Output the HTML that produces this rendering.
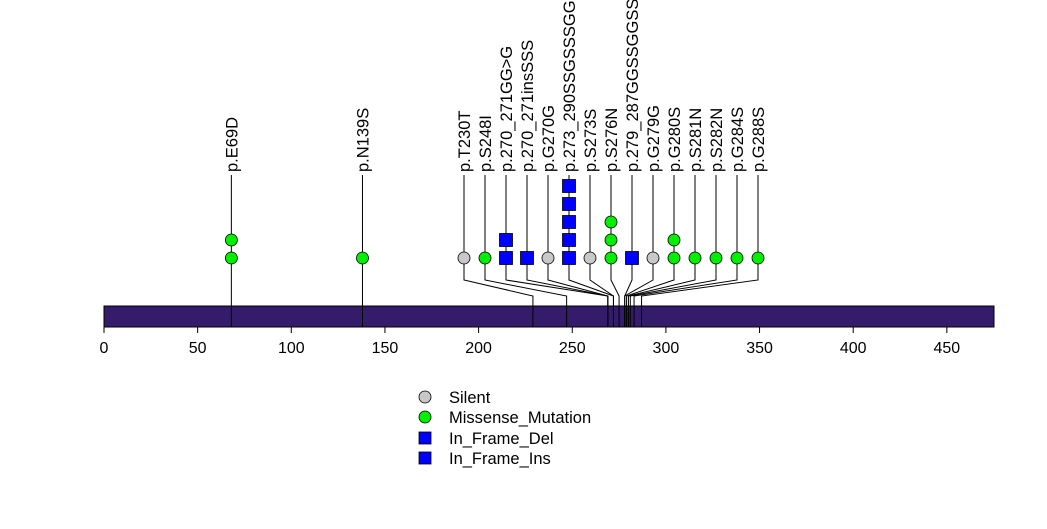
<!DOCTYPE html>
<html><head><meta charset="utf-8"><style>
body{margin:0;background:#fff;}
svg text{font-family:"Liberation Sans",Arial,sans-serif;}
</style></head><body>
<svg id="chart" width="1047" height="524" xmlns="http://www.w3.org/2000/svg">
<g id="stems"></g>
<rect x="104" y="306" width="890" height="21" fill="#351c6b" stroke="#000" stroke-width="1"/>
<g id="junctions"></g>
<g id="axis"></g>
<g id="marks"></g>
<g id="labels"></g>
<g font-size="16.5">
 <circle cx="425" cy="397" r="6" fill="#c8c8c8" stroke="#000" stroke-width="0.8"/>
 <text x="449" y="403">Silent</text>
 <circle cx="425" cy="417" r="6" fill="#00ee00" stroke="#000" stroke-width="0.8"/>
 <text x="449" y="423">Missense_Mutation</text>
 <rect x="419" y="432" width="12" height="12" fill="#0000ff" stroke="#000" stroke-width="0.8"/>
 <text x="449" y="444">In_Frame_Del</text>
 <rect x="419" y="452" width="12" height="12" fill="#0000ff" stroke="#000" stroke-width="0.8"/>
 <text x="449" y="464">In_Frame_Ins</text>
</g>
</svg>
<script>
const labels = ["p.E69D","p.N139S","p.T230T","p.S248I","p.270_271GG>G","p.270_271insSSS","p.G270G","p.273_290SSGSSSGGSSGSSGdel","p.S273S","p.S276N","p.279_287GGSSGGSSGdel","p.G279G","p.G280S","p.S281N","p.S282N","p.G284S","p.G288S"];
const positions = [68,138,229,247,269,269,269,272,272,275,278,278,279,280,281,283,287];
const counts = [2,1,1,1,2,1,1,5,1,3,1,1,2,1,1,1,1];
const types = ["missense","missense","silent","missense","del","ins","silent","del","silent","missense","del","silent","missense","missense","missense","missense","missense"];
const ticks = [0,50,100,150,200,250,300,350,400,450];
const NS="http://www.w3.org/2000/svg";
const x = v => 104 + v*1.873;
function mk(tag,attrs,parent){const e=document.createElementNS(NS,tag);for(const k in attrs)e.setAttribute(k,attrs[k]);parent.appendChild(e);return e;}
const stems=document.getElementById('stems'), marks=document.getElementById('marks'), lab=document.getElementById('labels'), axis=document.getElementById('axis'), junc=document.getElementById('junctions');
ticks.forEach(t=>{
  const l=mk('line',{x1:x(t),x2:x(t),y1:327,y2:333,stroke:'#000'},axis);
  
  
  const tx=mk('text',{x:x(t),y:353,'text-anchor':'middle','font-size':'16'},axis);
  
  
  tx.textContent=t;
});
labels.forEach((name,i)=>{
  const px = x(positions[i]);
  const lx = i<2 ? px : 464 + (i-2)*21;
  const p=mk('polyline',{points:`${lx},175 ${lx},280 ${px},296 ${px},306`,fill:'none',stroke:'#000','stroke-width':'1'},stems);
  
  
  const j=mk('line',{x1:px,x2:px,y1:306,y2:327,stroke:'#000','stroke-width':'1'},junc);
  
  
  for(let c=0;c<counts[i];c++){
    const cy=258-c*18;
    let m;
    if(types[i]==='del'||types[i]==='ins'){
      m=mk('rect',{x:lx-6.5,y:cy-6.5,width:13,height:13,fill:'#0000ff',stroke:'#000','stroke-width':'0.8'},marks);
    } else {
      m=mk('circle',{cx:lx,cy:cy,r:6,fill:types[i]==='silent'?'#c8c8c8':'#00ee00',stroke:'#000','stroke-width':'0.8'},marks);
    }
    
    
  }
  const t=mk('text',{x:0,y:0,'font-size':'16.5',transform:`translate(${lx+6},172) rotate(-90)`},lab);
  
  
  t.textContent=name;
});
</script>
</body></html>
